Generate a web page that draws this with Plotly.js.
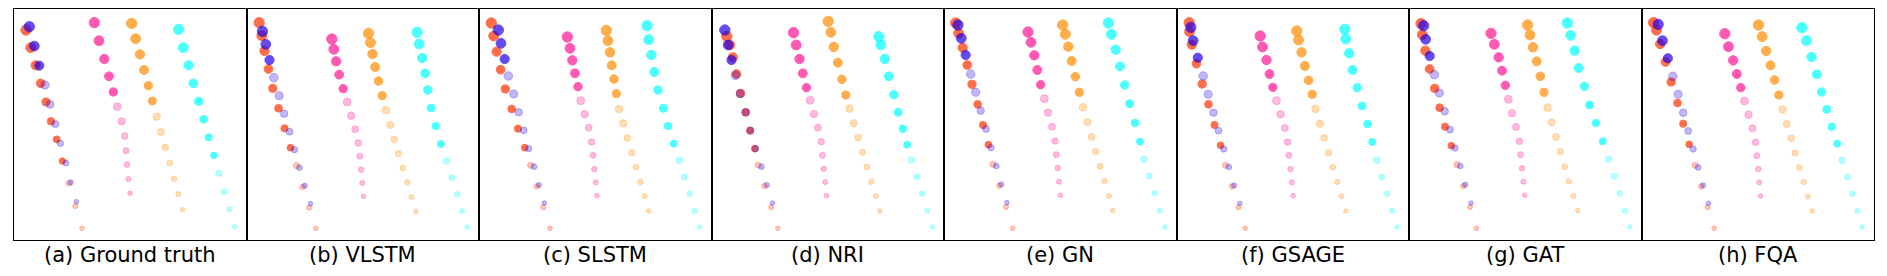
<!DOCTYPE html>
<html>
<head>
<meta charset="utf-8">
<script src="https://cdn.plot.ly/plotly-3.0.1.min.js"></script>
<style>html,body{margin:0;padding:0;background:#fff;}#chart{width:1887px;height:276px;}</style>
</head>
<body>
<div id="chart"></div>
<script>
// Panel titles
const PANEL_TITLES = ["(a) Ground truth", "(b) VLSTM", "(c) SLSTM", "(d) NRI", "(e) GN", "(f) GSAGE", "(g) GAT", "(h) FQA"];
const AGENTS = ["red", "blue", "magenta", "orange", "cyan"];
// number of observed (solid) steps per agent; the rest are faded
const OBS_COUNT = [8, 3, 5, 6, 8];

// positions [x, y] (y grows downward), units: 1/3 px of panel
const a_red = [[36,63],[50,116],[65,169],[80,223],[96,279],[111,337],[128,391],[145,456],[165,523],[184,591],[204,658]];
const a_blue = [[46,53],[61,111],[76,170],[93,228],[108,286],[124,345],[139,403],[156,462],[170,520],[187,578]];
const a_magenta = [[241,41],[255,95],[271,150],[285,202],[298,249],[310,293],[323,337],[332,381],[336,425],[339,467],[343,510],[348,553]];
const a_orange = [[353,43],[365,89],[378,136],[390,183],[403,230],[415,276],[428,323],[441,369],[454,415],[467,462],[480,509],[493,555],[506,602]];
const a_cyan = [[494,61],[508,116],[524,169],[538,223],[554,277],[569,331],[584,385],[600,439],[615,493],[631,548],[646,601],[662,653]];

const b_red = [[38,41],[46,80],[54,126],[66,180],[79,238],[96,298],[114,358],[132,416],[150,470],[168,534],[188,596],[208,658]];
const b_blue = [[48,67],[58,106],[69,153],[82,206],[98,260],[113,314],[129,368],[144,422],[159,476],[175,530],[192,584]];
const b_magenta = [[256,90],[262,121],[269,157],[278,197],[290,239],[302,279],[314,320],[326,361],[335,402],[340,442],[344,482],[347,522],[351,562]];
const b_orange = [[366,73],[372,101],[378,135],[386,174],[396,216],[407,260],[418,304],[431,348],[443,391],[456,434],[469,477],[482,520],[495,564],[508,607]];
const b_cyan = [[512,70],[518,105],[527,147],[536,193],[544,243],[554,297],[568,351],[583,405],[600,456],[616,506],[632,556],[647,606],[662,654]];

const c_red = [[37,42],[44,81],[53,128],[65,182],[79,240],[98,300],[117,359],[137,416],[155,469],[173,532],[193,595],[213,658]];
const c_blue = [[58,63],[66,103],[77,150],[88,201],[104,255],[119,310],[134,364],[149,419],[165,473],[180,528],[196,582]];
const c_magenta = [[265,84],[273,118],[280,154],[288,193],[297,233],[305,275],[317,316],[329,356],[338,399],[342,439],[346,480],[350,520],[354,560]];
const c_orange = [[382,64],[387,95],[393,130],[398,169],[405,210],[412,254],[420,300],[433,343],[445,387],[458,431],[471,475],[484,519],[497,562],[509,606]];
const c_cyan = [[504,50],[509,92],[517,138],[526,189],[537,243],[553,298],[567,351],[584,404],[601,454],[616,504],[632,554],[647,605],[662,654]];

const d_red = [[46,82],[55,108],[64,145],[75,195],[87,253],[103,310],[116,365],[130,419],[140,468],[159,531],[179,595],[199,658]];
const d_blue = [[40,63],[50,108],[60,153],[72,199],[86,254],[102,310],[116,364],[132,419],[150,473],[166,528],[183,582]];
const d_magenta = [[246,71],[254,108],[264,150],[274,193],[285,236],[296,274],[307,315],[319,356],[329,398],[333,439],[337,479],[341,519],[345,560]];
const d_orange = [[350,37],[358,70],[367,114],[379,161],[391,211],[403,258],[414,299],[427,343],[440,386],[453,430],[466,474],[479,518],[493,562],[505,606]];
const d_cyan = [[502,83],[508,108],[520,150],[532,202],[547,257],[560,310],[574,359],[587,407],[600,453],[616,503],[632,554],[647,605],[663,654]];

const e_red = [[35,42],[44,73],[56,116],[70,168],[84,226],[101,286],[117,348],[133,407],[147,466],[166,530],[186,594],[206,658]];
const e_blue = [[42,48],[52,88],[65,138],[80,195],[95,250],[110,305],[126,360],[141,416],[157,471],[172,526],[189,581]];
const e_magenta = [[252,69],[261,100],[271,139],[280,183],[290,227],[301,269],[312,311],[324,353],[333,396],[337,437],[341,477],[345,518],[349,559]];
const e_orange = [[356,48],[364,76],[373,113],[383,156],[394,203],[406,250],[417,295],[430,339],[443,384],[455,428],[468,472],[481,516],[495,561],[507,605]];
const e_cyan = [[493,42],[502,76],[515,122],[528,172],[542,228],[557,284],[573,342],[588,398],[600,451],[616,501],[632,553],[647,605],[662,654]];

const f_red = [[38,41],[39,68],[46,107],[60,164],[77,225],[96,286],[114,348],[132,409],[147,469],[167,532],[186,595],[206,658]];
const f_blue = [[43,55],[50,95],[64,146],[80,201],[95,256],[111,311],[126,365],[142,420],[157,474],[173,529],[190,583]];
const f_magenta = [[251,81],[258,114],[270,153],[279,195],[289,235],[300,275],[312,316],[325,357],[333,399],[337,439],[342,480],[346,520],[350,560]];
const f_orange = [[361,66],[366,93],[375,130],[385,171],[396,214],[407,256],[417,300],[430,344],[443,387],[456,431],[469,475],[482,519],[495,562],[508,606]];
const f_cyan = [[505,61],[508,90],[518,133],[528,183],[542,236],[557,291],[573,345],[587,399],[601,454],[616,504],[632,554],[647,605],[662,654]];

const g_red = [[36,44],[40,77],[49,125],[62,180],[77,238],[92,296],[108,353],[127,410],[144,467],[163,531],[183,594],[202,658]];
const g_blue = [[44,50],[50,91],[62,141],[76,197],[91,252],[107,307],[123,362],[138,417],[154,471],[169,527],[186,582]];
const g_magenta = [[246,73],[256,106],[269,145],[279,185],[289,229],[298,271],[309,313],[321,354],[331,397],[335,437],[339,478],[343,518],[347,559]];
const g_orange = [[356,48],[363,78],[372,115],[383,157],[394,202],[405,250],[416,296],[428,340],[441,384],[454,428],[467,473],[479,517],[493,561],[506,605]];
const g_cyan = [[475,42],[485,79],[497,125],[509,177],[526,232],[542,288],[561,342],[581,397],[599,451],[616,502],[632,553],[647,605],[662,654]];

const h_red = [[36,41],[45,64],[56,105],[72,159],[89,219],[108,282],[125,344],[143,406],[161,469],[179,532],[198,595],[218,658]];
const h_blue = [[50,46],[63,95],[79,148],[94,202],[110,256],[125,311],[140,366],[155,420],[170,475],[185,529],[201,583]];
const h_magenta = [[250,74],[261,113],[275,154],[286,195],[298,236],[309,276],[321,317],[333,358],[342,400],[346,440],[350,480],[353,520],[357,561]];
const h_orange = [[351,48],[362,83],[374,126],[387,169],[399,213],[412,258],[423,301],[436,345],[449,388],[461,432],[474,476],[486,519],[499,563],[512,606]];
const h_cyan = [[481,56],[495,95],[510,144],[526,196],[540,249],[556,301],[571,353],[587,404],[602,454],[618,504],[633,554],[648,605],[662,654]];

const PANELS = [
  [a_red, a_blue, a_magenta, a_orange, a_cyan],
  [b_red, b_blue, b_magenta, b_orange, b_cyan],
  [c_red, c_blue, c_magenta, c_orange, c_cyan],
  [d_red, d_blue, d_magenta, d_orange, d_cyan],
  [e_red, e_blue, e_magenta, e_orange, e_cyan],
  [f_red, f_blue, f_magenta, f_orange, f_cyan],
  [g_red, g_blue, g_magenta, g_orange, g_cyan],
  [h_red, h_blue, h_magenta, h_orange, h_cyan]
];

// styling
const RGB = {red:[255,50,0], blue:[35,0,230], magenta:[255,20,147], orange:[255,140,0], cyan:[0,255,255]};
const A_OBS = 1.0, A_FUT = 0.4;
const W = 1887, H = 276;
const LEFT = 14, PW = 232.5, TOP = 9, BOT = 240;

const traces = [];
const layout = {
  width: W, height: H,
  margin: {l:0, r:0, t:0, b:0},
  paper_bgcolor: '#fff', plot_bgcolor: '#fff',
  showlegend: false,
  annotations: []
};

PANELS.forEach((series, p) => {
  const ax = p === 0 ? '' : String(p + 1);
  const x0 = (LEFT + p * PW) / W, x1 = (LEFT + (p + 1) * PW) / W;
  const common = {showgrid:false, zeroline:false, showticklabels:false, ticks:'',
                  showline:true, mirror:true, linecolor:'#000', linewidth:1, fixedrange:true};
  layout['xaxis' + ax] = Object.assign({}, common, {domain:[x0, x1], range:[0, 697.5], anchor:'y' + ax});
  layout['yaxis' + ax] = Object.assign({}, common, {domain:[1 - BOT / H, 1 - TOP / H], range:[693, 0], anchor:'x' + ax});
  series.forEach((pts, k) => {
    const c = RGB[AGENTS[k]];
    const n = pts.length;
    const cols = pts.map((_, i) => `rgba(${c[0]},${c[1]},${c[2]},${i < OBS_COUNT[k] ? A_OBS : A_FUT})`);
    traces.push({
      type: 'scatter', mode: 'markers',
      xaxis: 'x' + ax, yaxis: 'y' + ax,
      x: pts.map(q => q[0]), y: pts.map(q => q[1]),
      hoverinfo: 'skip',
      marker: {
        size: pts.map((_, i) => 10.3 - 5.7 * i / (n - 1)),
        color: cols,
        line: {color: cols, width: 1}
      }
    });
  });
  layout.annotations.push({
    text: PANEL_TITLES[p], showarrow: false,
    xref: 'paper', yref: 'paper', x: (x0 + x1) / 2, y: 1 - 255 / H,
    xanchor: 'center', yanchor: 'middle',
    font: {family: 'DejaVu Sans', size: 21, color: '#000'}
  });
});

Plotly.newPlot('chart', traces, layout, {displayModeBar: false, staticPlot: true});
</script>
</body>
</html>
